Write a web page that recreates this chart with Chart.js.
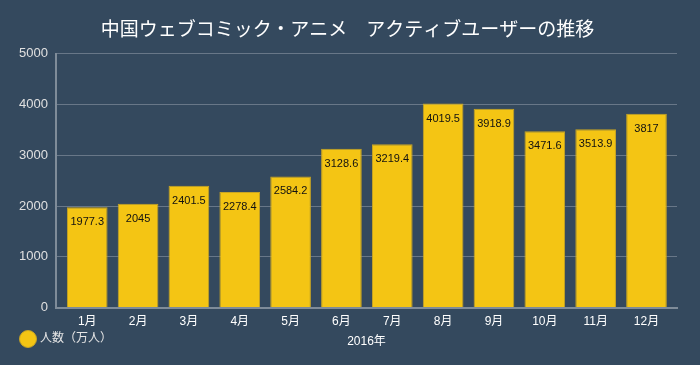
<!DOCTYPE html>
<html><head><meta charset="utf-8">
<script src="https://cdn.jsdelivr.net/npm/chart.js@4"></script>
<style>html,body{margin:0;padding:0;background:#34495e;}#wrap{width:700px;height:365px;}</style>
</head><body><div id="wrap"><canvas id="c"></canvas></div>
<script>
const categories = ["1月","2月","3月","4月","5月","6月","7月","8月","9月","10月","11月","12月"];
const users = [1977.3,2045,2401.5,2278.4,2584.2,3128.6,3219.4,4019.5,3918.9,3471.6,3513.9,3817];
const yTicks = [0,1000,2000,3000,4000,5000];
const seriesName = "人数（万人）";
const titleText = "中国ウェブコミック・アニメ　アクティブユーザーの推移";
const xTitle = "2016年";
const FONT = "'Liberation Sans', Arial, 'Noto Sans CJK JP', sans-serif";

const points = users.map((v, i) => ({ x: i, y: v }));

const valueLabels = {
  id: 'valueLabels',
  afterDatasetsDraw(chart) {
    const ctx = chart.ctx;
    const meta = chart.getDatasetMeta(0);
    ctx.save();
    ctx.font = "11px " + FONT;
    ctx.fillStyle = "#111";
    ctx.textAlign = "center";
    ctx.textBaseline = "middle";
    meta.data.forEach((bar, i) => {
      ctx.fillText(String(users[i]), bar.x, bar.y + 15);
    });
    ctx.restore();
  }
};

new Chart(document.getElementById('c'), {
  type: 'bar',
  data: {
    datasets: [{
      label: seriesName,
      data: points,
      backgroundColor: '#f4c514',
      borderColor: '#c9a523',
      borderWidth: 1,
      barPercentage: 0.8,
      categoryPercentage: 1.0
    }]
  },
  options: {
    responsive: true,
    maintainAspectRatio: false,
    animation: false,
    layout: { padding: { left: 18, right: 23, top: 0, bottom: 10 } },
    plugins: {
      title: {
        display: true, text: titleText, color: '#ffffff',
        font: { size: 19, family: FONT, weight: 'normal' },
        padding: { top: 19, bottom: 12 }
      },
      legend: {
        position: 'bottom', align: 'start',
        labels: {
          color: '#e6e6e6', font: { size: 12, family: FONT },
          usePointStyle: true, pointStyle: 'circle', boxWidth: 13, boxHeight: 13, padding: 4
        }
      },
      tooltip: { enabled: false }
    },
    scales: {
      x: {
        type: 'linear',
        offset: false,
        min: -0.614, max: 11.6,
        grid: { display: false, drawTicks: false, offset: false },
        border: { display: true, color: '#7f8c99', width: 2 },
        ticks: {
          stepSize: 1, includeBounds: false, autoSkip: false, maxRotation: 0,
          color: '#ffffff', font: { size: 12, family: FONT }, padding: 7,
          callback: (v) => Number.isInteger(v) && categories[v] !== undefined ? categories[v] : ''
        },
        title: { display: true, text: xTitle, color: '#ffffff', font: { size: 12, family: FONT }, padding: { top: -1.6, bottom: -19.7 } }
      },
      y: {
        min: 0, max: 5000,
        afterFit: (s) => { s.width = 38; },
        afterBuildTicks: (s) => { s.ticks = yTicks.map(v => ({ value: v })); },
        ticks: { color: '#e0e0e0', font: { size: 13, family: FONT }, padding: 8, callback: (v) => String(v) },
        grid: { color: '#687788', drawTicks: false, lineWidth: 1 },
        border: { display: true, color: '#7f8c99', width: 2 }
      }
    }
  },
  plugins: [valueLabels]
});
</script></body></html>
